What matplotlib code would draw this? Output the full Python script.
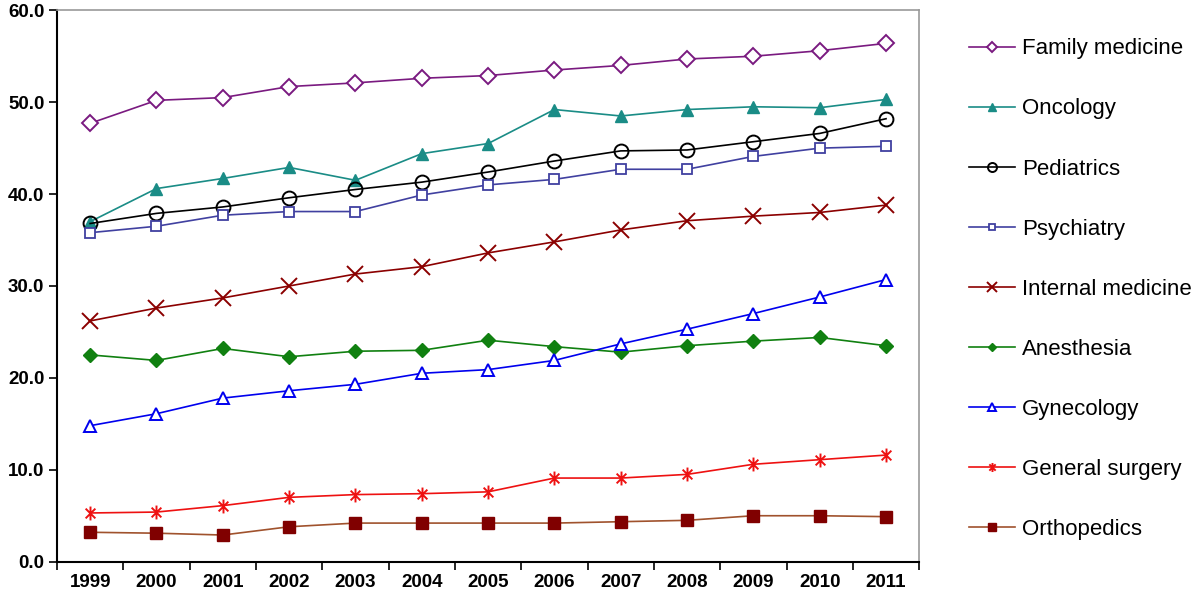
import numpy as np
import matplotlib
matplotlib.use("Agg")
import matplotlib.pyplot as plt
from matplotlib.path import Path

years = [str(y) for y in range(1999, 2012)]

family_medicine = [47.7, 50.2, 50.5, 51.7, 52.1, 52.6, 52.9, 53.5, 54.0, 54.7, 55.0, 55.6, 56.4]
oncology = [37.0, 40.6, 41.7, 42.9, 41.5, 44.4, 45.5, 49.2, 48.5, 49.2, 49.5, 49.4, 50.3]
pediatrics = [36.8, 37.9, 38.6, 39.6, 40.5, 41.3, 42.4, 43.6, 44.7, 44.8, 45.7, 46.6, 48.2]
psychiatry = [35.8, 36.5, 37.7, 38.1, 38.1, 39.9, 41.0, 41.6, 42.7, 42.7, 44.1, 45.0, 45.2]
internal_medicine = [26.2, 27.6, 28.7, 30.0, 31.3, 32.1, 33.6, 34.8, 36.1, 37.1, 37.6, 38.0, 38.8]
anesthesia = [22.5, 21.9, 23.2, 22.3, 22.9, 23.0, 24.1, 23.4, 22.8, 23.5, 24.0, 24.4, 23.5]
gynecology = [14.8, 16.1, 17.8, 18.6, 19.3, 20.5, 20.9, 21.9, 23.7, 25.3, 27.0, 28.8, 30.7]
general_surgery = [5.3, 5.4, 6.1, 7.0, 7.3, 7.4, 7.6, 9.1, 9.1, 9.5, 10.6, 11.1, 11.6]
orthopedics = [3.2, 3.1, 2.9, 3.8, 4.2, 4.2, 4.2, 4.2, 4.35, 4.5, 5.0, 5.0, 4.9]

# Excel-style asterisk: an X with a vertical bar through it
asterisk = Path([(-0.7, -0.7), (0.7, 0.7), (-0.7, 0.7), (0.7, -0.7), (0, -1), (0, 1)],
                [Path.MOVETO, Path.LINETO, Path.MOVETO, Path.LINETO, Path.MOVETO, Path.LINETO])

series = [
    ("Family medicine", family_medicine, dict(color="#7a1a80", marker="D", ms=8, mfc="white", mec="#7a1a80", mew=1.4)),
    ("Oncology", oncology, dict(color="#1a8c86", marker="^", ms=9, mfc="#1a8c86", mec="#1a8c86")),
    ("Pediatrics", pediatrics, dict(color="black", marker="o", ms=10, mfc="none", mec="black", mew=1.4)),
    ("Psychiatry", psychiatry, dict(color="#4040a0", marker="s", ms=7, mfc="white", mec="#4040a0", mew=1.3)),
    ("Internal medicine", internal_medicine, dict(color="#8b0000", marker="x", ms=11, mew=1.4)),
    ("Anesthesia", anesthesia, dict(color="#108010", marker="D", ms=7, mfc="#108010", mec="#108010")),
    ("Gynecology", gynecology, dict(color="#0000ee", marker="^", ms=9, mfc="white", mec="#0000ee", mew=1.4)),
    ("General surgery", general_surgery, dict(color="#ee1111", marker=asterisk, ms=10, mew=1.4)),
    ("Orthopedics", orthopedics, dict(color="#a0522d", marker="s", ms=8, mfc="#800000", mec="#800000")),
]

plt.rcParams['font.family'] = ['Liberation Sans', 'DejaVu Sans']

fig = plt.figure(figsize=(12, 6.05), dpi=100)
ax = fig.add_axes([0.0475, 0.0716, 0.7185, 0.9114])

x = np.arange(len(years))
for name, values, style in series:
    ax.plot(x, values, label=name, lw=1.2, **style)

ax.set_xlim(-0.5, len(years) - 0.5)
ax.set_ylim(0, 60)
ax.set_yticks(np.arange(0, 61, 10))
ax.set_yticklabels(["%.1f" % v for v in np.arange(0, 61, 10)], fontsize=13.5, fontweight="bold")
ax.set_xticks(np.arange(-0.5, len(years)), labels=[""] * (len(years) + 1))
ax.set_xticks(x, labels=years, minor=True)
ax.tick_params(axis="x", which="minor", length=0, pad=9, labelsize=13.5)
ax.tick_params(axis="x", which="major", length=6, width=1.2, direction="out")
ax.tick_params(axis="y", length=6, width=1.2, direction="out", pad=3)
for lab in ax.get_xticklabels(minor=True):
    lab.set_fontweight("bold")

ax.spines["left"].set_linewidth(1.5)
ax.spines["bottom"].set_linewidth(1.5)
ax.spines["top"].set_color("#999999")
ax.spines["right"].set_color("#999999")
ax.spines["top"].set_linewidth(1.2)
ax.spines["right"].set_linewidth(1.2)

fig.legend(loc="upper left", bbox_to_anchor=(0.798, 0.955), frameon=False,
           fontsize=16, handlelength=2.1, labelspacing=1.76, markerscale=0.65,
           borderpad=0, handletextpad=0.3)

fig.savefig("out.png", dpi=100)
